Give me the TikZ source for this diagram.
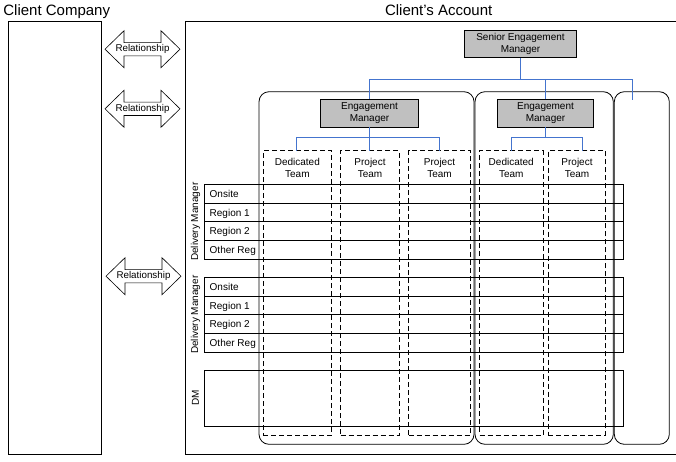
\documentclass[tikz,border=0pt]{standalone}
\usepackage{fontspec}
\setmainfont{Liberation Sans}
\usetikzlibrary{calc}
\definecolor{boxgray}{RGB}{192,192,192}
\definecolor{linkblue}{RGB}{68,116,206}
\tikzset{
  frame/.style={draw, line width=0.8pt, inner sep=0pt, outer sep=0pt},
  panel/.style={frame, rounded corners=10pt},
  teambox/.style={frame, dash pattern=on 5pt off 3pt},
  rolebox/.style={frame, fill=boxgray, align=center, font=\fontsize{10}{12}\selectfont},
  rowbox/.style={frame, minimum width=418.7pt, minimum height=18.6pt},
  rowlabel/.style={anchor=west, inner sep=0pt, text height=7.2pt, text depth=0pt},
  sidelabel/.style={rotate=90, inner sep=0pt},
  teamlabel/.style={align=center, inner sep=0pt},
  heading/.style={font=\fontsize{15}{18}\selectfont, inner sep=0pt},
  link/.style={draw=linkblue, line width=1pt},
  reltext/.style={inner sep=0pt, font=\fontsize{9.8}{12}\selectfont}
}
% two-headed "Relationship" arrow around a named text node
\newcommand{\relarrow}[3]{%
  \node[reltext] (#1) at (#2,#3) {Relationship};
  \draw[line width=0.6pt, shift={(#1)}]
    (-37.5,0) -- (-18.5,-18.5) -- (-18.5,-6.65) -- (18.5,-6.65) -- (18.5,-18.5)
    -- (37.5,0) -- (18.5,18.5) -- (18.5,6.65) -- (-18.5,6.65) -- (-18.5,18.5) -- cycle;
}
\begin{document}
\begin{tikzpicture}[x=1pt, y=-1pt, line width=0.8pt, font=\fontsize{10}{12}\selectfont]
\useasboundingbox (0,0) rectangle (676,461);

% headings
\node[heading, anchor=base west] (cctitle) at (3,15) {Client Company};
\node[heading, anchor=base] (catitle) at (438.7,15) {Client’s Account};

% outer frames
\node[frame, minimum width=93pt, minimum height=433pt] (company) at (54.5,237.5) {};
\node[frame, minimum width=492pt, minimum height=433pt] (account) at (431,237.5) {};

% relationship arrows
\relarrow{rel1}{142.5}{49.2}
\relarrow{rel2}{142.5}{108.8}
\relarrow{rel3}{143.5}{276.2}

% engagement panels
\node[panel, minimum width=215pt, minimum height=352.6pt] (pan1) at (366.5,268) {};
\node[panel, minimum width=138.3pt, minimum height=352.6pt] (pan2) at (544.15,268) {};
\node[panel, minimum width=55pt, minimum height=352.6pt] (pan3) at (641.8,268) {};

% team columns
\foreach \nm/\cx/\w in {d1/297.35/68.7, p1/370/58.6, p2/439.5/62, d2/511.25/63.5, p3/577/57.4}
  \node[teambox, minimum width=\w pt, minimum height=284.3pt] (\nm) at (\cx,292.85) {};
\node[teamlabel] (d1t) at (297.35,168) {Dedicated\\Team};
\node[teamlabel] (p1t) at (370,168) {Project\\Team};
\node[teamlabel] (p2t) at (439.5,168) {Project\\Team};
\node[teamlabel] (d2t) at (511.25,168) {Dedicated\\Team};
\node[teamlabel] (p3t) at (577,168) {Project\\Team};

% regional rows of the two delivery managers
\foreach \g/\ys in {a/{194,212.5,231,249.65}, b/{287,305.5,324,342.65}} {
  \foreach \y [count=\i] in \ys {
    \node[rowbox] (row\g\i) at (413.65,\y) {};
  }
}
\foreach \g in {a,b} {
  \node[rowlabel] (lab\g1) at (209.3,0 |- row\g1) {Onsite};
  \node[rowlabel] (lab\g2) at (209.3,0 |- row\g2) {Region 1};
  \node[rowlabel] (lab\g3) at (209.3,0 |- row\g3) {Region 2};
  \node[rowlabel] (lab\g4) at (209.3,0 |- row\g4) {Other Reg};
}
\node[sidelabel] (dma) at (195.5,221.8) {Delivery Manager};
\node[sidelabel] (dmb) at (195.5,314.8) {Delivery Manager};

% DM band
\node[frame, minimum width=418.7pt, minimum height=55.7pt] (dmrow) at (413.65,398.15) {};
\node[sidelabel] (dmc) at (195.5,398.15) {DM};

% management boxes
\node[rolebox, minimum width=111.7pt, minimum height=27.7pt] (sem) at (520.5,43.85) {Senior Engagement\\Manager};
\node[rolebox, minimum width=97.4pt, minimum height=28pt] (em1) at (369.5,113.3) {Engagement\\Manager};
\node[rolebox, minimum width=95.7pt, minimum height=28pt] (em2) at (545.5,113.3) {Engagement\\Manager};

% reporting lines
\coordinate (j0) at (520.5,79.5);
\coordinate (e3) at (632.5,100);
\draw[link] (sem.south) -- (j0);
\draw[link] (em1.north) -- (em1.north |- j0) -- (e3 |- j0) -- (e3);
\draw[link] (em2.north) -- (em2.north |- j0);

\coordinate (j1) at (369.5,137.5);
\coordinate (d1in) at (296.5,150.7);
\coordinate (p2in) at (439.5,150.7);
\draw[link] (em1.south) -- (j1);
\draw[link] (d1in) -- (d1in |- j1) -- (p2in |- j1) -- (p2in);
\draw[link] (p1.north -| j1) -- (j1);

\coordinate (j2) at (545.5,137.5);
\coordinate (d2in) at (511.5,150.7);
\coordinate (p3in) at (582.5,150.7);
\draw[link] (em2.south) -- (j2);
\draw[link] (d2in) -- (d2in |- j2) -- (p3in |- j2) -- (p3in);
\end{tikzpicture}
\end{document}
